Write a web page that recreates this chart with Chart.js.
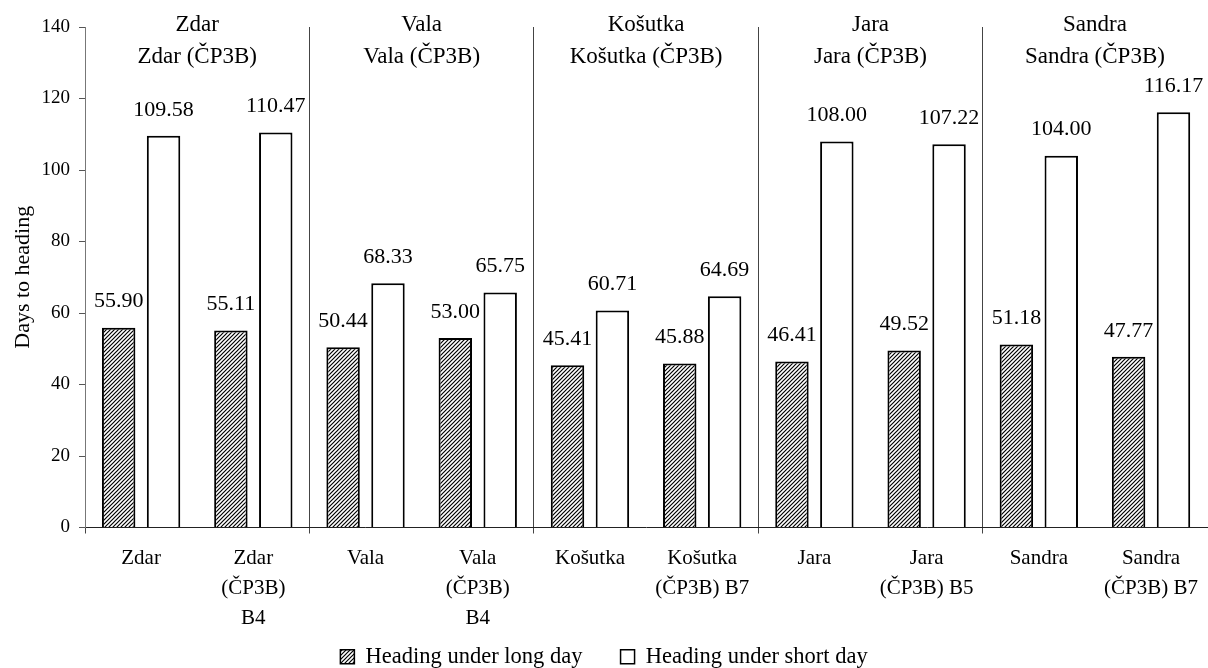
<!DOCTYPE html>
<html>
<head>
<meta charset="utf-8">
<script src="https://cdn.jsdelivr.net/npm/chart.js@4"></script>
<style>
  html, body { margin: 0; padding: 0; background: #fff; }
  #wrap { width: 1208px; height: 668px; position: relative; }
</style>
</head>
<body>
<div id="wrap"><canvas id="grafico"></canvas></div>
<script>
// dados
const categorias = [
  "Zdar", ["Zdar", "(ČP3B)", "B4"],
  "Vala", ["Vala", "(ČP3B)", "B4"],
  "Košutka", ["Košutka", "(ČP3B) B7"],
  "Jara", ["Jara", "(ČP3B) B5"],
  "Sandra", ["Sandra", "(ČP3B) B7"]
];
const grupos = ["Zdar", "Vala", "Košutka", "Jara", "Sandra"];
const diaLongo = [55.90, 55.11, 50.44, 53.00, 45.41, 45.88, 46.41, 49.52, 51.18, 47.77];
const diaCurto = [109.58, 110.47, 68.33, 65.75, 60.71, 64.69, 108.00, 107.22, 104.00, 116.17];
const ticksY = [0, 20, 40, 60, 80, 100, 120, 140];

const FONTE = "'Liberation Serif', 'Times New Roman', serif";

// hachura diagonal
function criarHachura() {
  const c = document.createElement("canvas");
  c.width = 4; c.height = 4;
  const ctx = c.getContext("2d");
  ctx.fillStyle = "#fff";
  ctx.fillRect(0, 0, 4, 4);
  ctx.strokeStyle = "#000";
  ctx.lineWidth = 1.2;
  ctx.beginPath();
  ctx.moveTo(-1, 5); ctx.lineTo(5, -1);
  ctx.moveTo(-1, 1); ctx.lineTo(1, -1);
  ctx.moveTo(3, 5); ctx.lineTo(5, 3);
  ctx.stroke();
  return ctx.createPattern(c, "repeat");
}
const hachura = criarHachura();

// rotulos de valor acima das barras
const rotulosValor = {
  id: "rotulosValor",
  afterDatasetsDraw(chart) {
    const ctx = chart.ctx;
    ctx.save();
    ctx.font = "22px " + FONTE;
    ctx.fillStyle = "#000";
    ctx.textAlign = "center";
    ctx.textBaseline = "middle";
    chart.data.datasets.forEach((ds, i) => {
      chart.getDatasetMeta(i).data.forEach((bar, j) => {
        ctx.fillText(ds.data[j].toFixed(2), bar.x, bar.y - 26);
      });
    });
    ctx.restore();
  }
};

// titulos dos grupos no topo
const titulosGrupo = {
  id: "titulosGrupo",
  afterDraw(chart) {
    const ctx = chart.ctx;
    const x = chart.scales.x;
    const topo = chart.chartArea.top;
    ctx.save();
    ctx.font = "23px " + FONTE;
    ctx.fillStyle = "#000";
    ctx.textAlign = "center";
    ctx.textBaseline = "middle";
    grupos.forEach((g, k) => {
      const cx = (x.getPixelForValue(2 * k) + x.getPixelForValue(2 * k + 1)) / 2;
      ctx.fillText(g, cx, topo - 2);
      ctx.fillText(g + " (ČP3B)", cx, topo + 30);
    });
    ctx.restore();
  }
};

const config = {
  type: "bar",
  data: {
    labels: categorias,
    datasets: [
      {
        label: "Heading under long day",
        data: diaLongo,
        backgroundColor: hachura,
        borderColor: "#000",
        borderWidth: 2,
        borderSkipped: "bottom"
      },
      {
        label: "Heading under short day",
        data: diaCurto,
        backgroundColor: "#fff",
        borderColor: "#000",
        borderWidth: 2,
        borderSkipped: "bottom"
      }
    ]
  },
  options: {
    responsive: true,
    maintainAspectRatio: false,
    animation: false,
    categoryPercentage: 0.8,
    barPercentage: 0.745,
    layout: { padding: { top: 27, right: 0, left: 0, bottom: -10 } },
    plugins: {
      tooltip: { enabled: false },
      legend: {
        position: "bottom",
        labels: {
          color: "#000",
          font: { family: FONTE, size: 22.5 },
          boxWidth: 14,
          boxHeight: 14,
          padding: 10,
          // espaco extra entre os itens da legenda
          generateLabels: (chart) => {
            const itens = Chart.defaults.plugins.legend.labels.generateLabels(chart);
            itens.forEach((it, i) => {
              it.lineWidth = 1.5;
              if (i === 0) it.text = it.text + "\u2003 ";
            });
            return itens;
          }
        }
      }
    },
    scales: {
      x: {
        afterFit: (scale) => { scale.height = 108; },
        grid: {
          offset: true,
          drawOnChartArea: true,
          tickLength: 6,
          color: (ctx) => (ctx.index % 2 === 0 && ctx.index < categorias.length) ? "#444" : "rgba(0,0,0,0)"
        },
        border: { display: true, color: "#222", width: 1 },
        ticks: {
          color: "#000",
          font: { family: FONTE, size: 21, lineHeight: 30 / 21 },
          padding: 10,
          maxRotation: 0,
          autoSkip: false
        }
      },
      y: {
        min: 0,
        max: 140,
        afterBuildTicks: (scale) => { scale.ticks = ticksY.map(v => ({ value: v })); },
        afterFit: (scale) => { scale.width = 85; },
        grid: { drawOnChartArea: false, drawTicks: true, tickLength: 6, color: "#555" },
        border: { display: true, color: "#777", width: 1 },
        ticks: {
          color: "#000",
          font: { family: FONTE, size: 19 },
          padding: 9
        },
        title: {
          display: true,
          text: "Days to heading",
          color: "#000",
          font: { family: FONTE, size: 22 },
          padding: { top: 10, bottom: 0 }
        }
      }
    }
  },
  plugins: [rotulosValor, titulosGrupo]
};

var grafico = new Chart(document.getElementById("grafico"), config);
</script>
</body>
</html>
